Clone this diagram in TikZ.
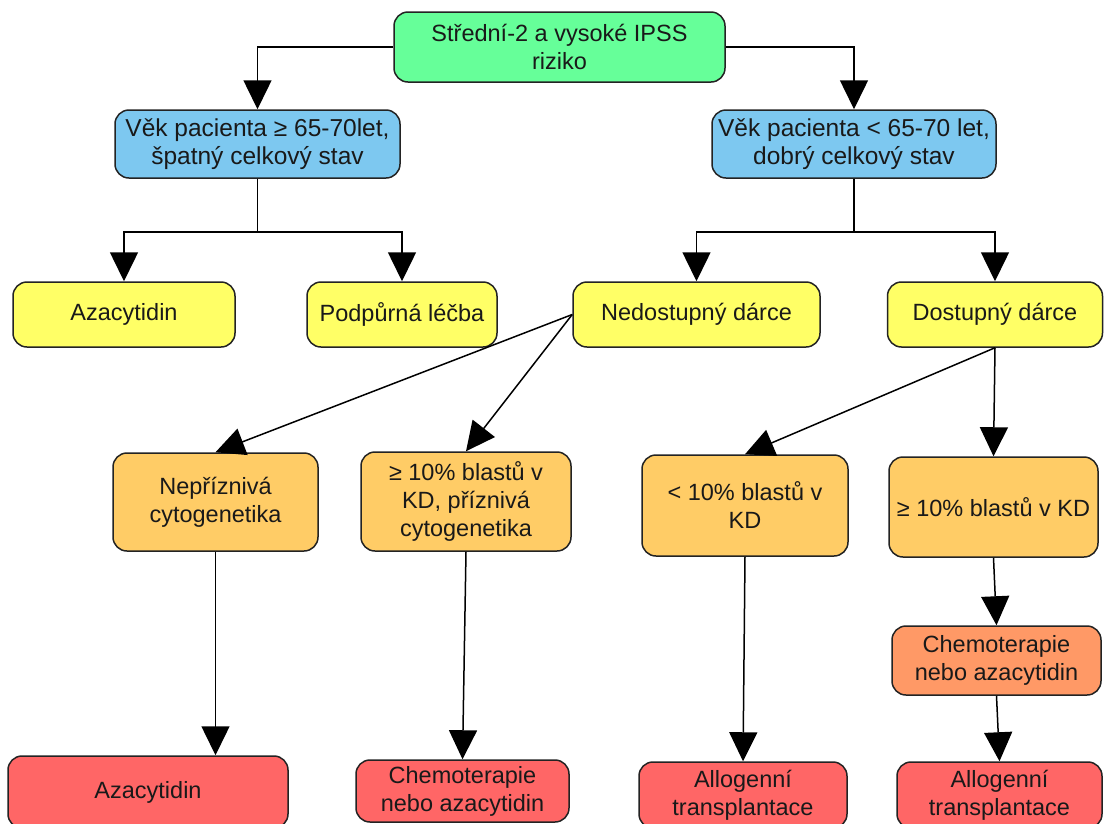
\documentclass[tikz,border=0pt]{standalone}
\usepackage{fontspec}
\setmainfont{Liberation Sans}
\usetikzlibrary{arrows.meta,calc}
\definecolor{cgreen}{RGB}{102,255,153}
\definecolor{cblue}{RGB}{125,200,240}
\definecolor{cyellow}{RGB}{255,255,102}
\definecolor{corange}{RGB}{255,204,102}
\definecolor{csalmon}{RGB}{255,153,102}
\definecolor{cred}{RGB}{255,102,102}
\definecolor{cborder}{RGB}{35,35,35}
\definecolor{ctext}{RGB}{25,25,25}

\begin{document}
\begin{tikzpicture}[x=1pt,y=-1pt,
  box/.style={draw=cborder, line width=1.5pt, rounded corners=14pt, align=center,
    inner sep=0pt, text=ctext, font=\fontsize{23.5}{28}\selectfont},
  bigtext/.style={font=\fontsize{24.5}{28}\selectfont},
  conn/.style={line width=1.5pt, -{Triangle[length=29pt,width=28pt]}},
  link/.style={line width=1.5pt}]

% canvas
\fill[white] (0,0) rectangle (1104,823);
\useasboundingbox (0,0) rectangle (1104,823);

% level 0
\node[box, fill=cgreen, minimum width=331pt, minimum height=70pt] (g) at (559.5,47)
  {Střední-2 a vysoké IPSS\\riziko};

% level 1: patient condition
\node[box, bigtext, fill=cblue, minimum width=285pt, minimum height=68pt] (b1) at (257.5,144)
  {Věk pacienta ≥ 65-70let,\\špatný celkový stav};
\node[box, bigtext, fill=cblue, minimum width=284pt, minimum height=68pt] (b2) at (854,144)
  {Věk pacienta < 65-70 let,\\dobrý celkový stav};

% level 2
\node[box, fill=cyellow, minimum width=222pt, minimum height=65pt] (y1) at (124,314.5) {Azacytidin};
\node[box, fill=cyellow, minimum width=190pt, minimum height=65pt] (y2) at (402,314.5) {Podpůrná léčba};
\node[box, fill=cyellow, minimum width=247pt, minimum height=65pt] (y3) at (696.5,314.5) {Nedostupný dárce};
\node[box, fill=cyellow, minimum width=215pt, minimum height=65pt] (y4) at (995,314.5) {Dostupný dárce};

% level 3
\node[box, fill=corange, minimum width=205pt, minimum height=98pt] (o1) at (215.5,502)
  {Nepříznivá\\cytogenetika};
\node[box, fill=corange, minimum width=210pt, minimum height=99pt] (o2) at (466,501.5)
  {≥ 10\% blastů v\\KD, příznivá\\cytogenetika};
\node[box, fill=corange, minimum width=206pt, minimum height=101pt] (o3) at (745,505.5)
  {< 10\% blastů v\\KD};
\node[box, fill=corange, minimum width=209pt, minimum height=100pt] (o4) at (993.5,507)
  {≥ 10\% blastů v KD};
\node[box, fill=csalmon, minimum width=209pt, minimum height=69pt] (s1) at (996.5,660.5)
  {Chemoterapie\\nebo azacytidin};

% level 4: treatment
\node[box, fill=cred, minimum width=280pt, minimum height=72pt] (r1) at (148,792) {Azacytidin};
\node[box, fill=cred, minimum width=213pt, minimum height=62pt] (r2) at (462.5,791)
  {Chemoterapie\\nebo azacytidin};
\node[box, fill=cred, minimum width=208pt, minimum height=66pt] (r3) at (743,795)
  {Allogenní\\transplantace};
\node[box, fill=cred, minimum width=205pt, minimum height=66pt] (r4) at (999.5,795)
  {Allogenní\\transplantace};

% connectors
\draw[conn] (g.west) -| (b1.north);
\draw[conn] (g.east) -| (b2.north);

\coordinate (jl) at ($(b1.south)+(0,53)$);
\coordinate (jr) at ($(b2.south)+(0,53)$);
\draw[link] (b1.south) -- (jl);
\draw[conn] (jl) -| (y1.north);
\draw[conn] (jl) -| (y2.north);
\draw[link] (b2.south) -- (jr);
\draw[conn] (jr) -| (y3.north);
\draw[conn] (jr) -| (y4.north);

\draw[conn] (y3.west) -- (o1.north);
\draw[conn] (y3.west) -- (o2.north);
\draw[conn] (y4.south) -- (o3.north);
\draw[conn] (y4.south) -- (o4.north);

\draw[conn] (o1.south) -- (r1.north -| o1.south);
\draw[conn] (o2.south) -- (r2.north);
\draw[conn] (o3.south) -- (r3.north);
\draw[conn] (o4.south) -- (s1.north);
\draw[conn] (s1.south) -- (r4.north);
\end{tikzpicture}
\end{document}
